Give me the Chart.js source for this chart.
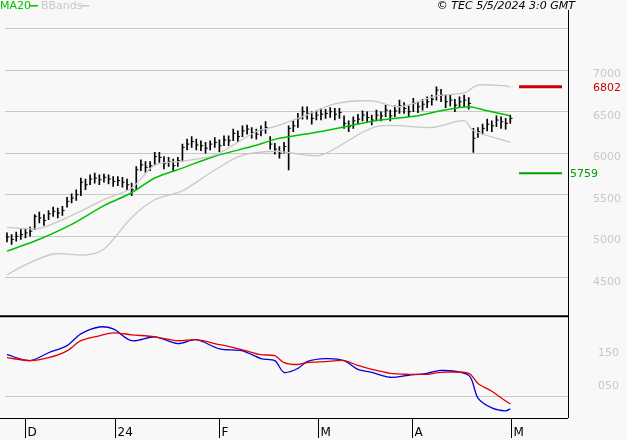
<!DOCTYPE html>
<html lang="en">
<head>
<meta charset="UTF-8" />
<title>Price chart with MACD</title>
<script src="https://cdn.jsdelivr.net/npm/chart.js"></script>
<style>
  body { margin: 0; background: #f8f8f8; }
  #wrap { width: 627px; height: 440px; position: relative; }
</style>
</head>
<body>
<div id="wrap"><canvas id="chart"></canvas></div>
<script>
// daily bars, index 0 = late Nov 2023, last = 3 May 2024
const closes = [4990,4960,5000,5020,5040,5060,5240,5220,5190,5270,
  5300,5280,5310,5420,5460,5500,5650,5620,5690,5700,
  5680,5710,5690,5660,5670,5650,5620,5560,5800,5860,
  5830,5850,5960,5950,5880,5900,5850,5910,6070,6110,
  6140,6100,6090,6060,6110,6130,6090,6160,6150,6240,
  6200,6270,6290,6250,6230,6280,6310,6110,6050,6000,
  6080,6300,6330,6420,6500,6480,6420,6460,6470,6480,
  6500,6470,6490,6360,6320,6390,6410,6460,6430,6400,
  6460,6450,6520,6450,6510,6570,6540,6500,6600,6560,
  6590,6620,6650,6760,6700,6620,6640,6580,6620,6640,
  6600,6180,6260,6300,6350,6330,6400,6380,6360,6420];
const highs = [5040,5020,5050,5080,5090,5110,5260,5290,5260,5310,
  5350,5340,5360,5470,5510,5560,5700,5690,5740,5760,
  5740,5750,5740,5720,5720,5710,5690,5640,5840,5920,
  5900,5900,6010,6010,5960,5950,5930,5950,6110,6170,
  6200,6170,6150,6130,6150,6190,6160,6210,6210,6290,
  6270,6330,6340,6310,6290,6330,6380,6200,6120,6080,
  6130,6330,6390,6480,6560,6560,6500,6510,6540,6530,
  6550,6540,6540,6450,6390,6440,6470,6510,6500,6460,
  6520,6500,6580,6520,6570,6640,6610,6570,6660,6620,
  6650,6680,6700,6800,6770,6700,6700,6650,6680,6700,
  6670,6300,6310,6350,6410,6390,6450,6440,6420,6460];
const lows = [4930,4900,4940,4960,4980,5000,5080,5160,5130,5200,
  5240,5220,5250,5350,5400,5430,5490,5560,5620,5640,
  5620,5650,5630,5600,5610,5590,5560,5490,5560,5790,
  5770,5790,5860,5890,5810,5840,5790,5840,5900,6040,
  6070,6040,6030,6000,6040,6070,6020,6090,6090,6150,
  6140,6200,6230,6180,6170,6210,6240,6050,5990,5940,
  6000,5800,6260,6310,6410,6410,6350,6400,6400,6420,
  6430,6400,6420,6300,6260,6300,6350,6390,6370,6340,
  6390,6390,6440,6390,6440,6480,6480,6440,6500,6490,
  6520,6550,6580,6640,6620,6550,6570,6500,6550,6560,
  6530,6010,6190,6230,6270,6260,6320,6300,6290,6360];

// MA20 and Bollinger bands, read at these bar indexes
const maIdx = [0,7,14,21,27,32,38,45,54,58,68,80,89,94,100,104,109];
const ma20  = [4821,4964,5143,5369,5524,5702,5821,5964,6095,6167,6262,6393,6452,6512,6560,6512,6452];
const upIdx = [0,7,14,21,27,32,38,45,54,58,64,71,79,85,93,99,102,108,109];
const upper = [5107,5095,5250,5440,5580,5857,5905,5976,6262,6321,6440,6595,6630,6560,6690,6726,6820,6810,6800];
const loIdx = [0,4,10,17,21,27,32,38,45,51,58,62,68,80,92,99,101,109];
const lower = [4536,4655,4786,4774,4845,5226,5440,5548,5798,5976,6024,6000,5976,6321,6310,6393,6274,6131];

// MACD panel
const macdIdx = [0,5,9,13,16,20,23,27,32,37,41,46,51,55,58,60,63,65,69,73,76,79,83,87,91,94,100,102,105,108,109];
const macd   = [127,109,133,155,191,212,206,170,182,161,173,145,139,115,109,73,85,106,115,109,82,73,58,64,70,79,64,-6,-36,-45,-39];
const signal = [118,109,118,139,170,185,194,188,182,170,173,158,142,127,124,103,97,103,106,109,94,82,70,67,67,73,70,39,15,-15,-24];

// levels on the right
const levels = [6802, 5759];
const levelColors = ['#cc0000', '#00a000'];
const levelSpan = [110.9, 120.2];

const priceTicks = [4500, 5000, 5500, 6000, 6500, 7000, 7500];
const priceLabels = [4500, 5000, 5500, 6000, 6500, 7000];
const macdTicks = [0, 50, 150];
const macdLabels = [50, 150];
const monthIdx = [4, 23.5, 46, 67.4, 87.8, 109.2];
const monthLabels = ['D', '24', 'F', 'M', 'A', 'M'];

const pts = (xs, ys) => xs.map((x, i) => ({ x: x, y: ys[i] }));
const lineDs = (label, data, color, width, axis) => ({
  type: 'line', label, data, borderColor: color, borderWidth: width,
  pointRadius: 0, tension: 0.3, yAxisID: axis
});

const datasets = [
  lineDs('upper', pts(upIdx, upper), '#c8c8c8', 1.3, 'y'),
  lineDs('lower', pts(loIdx, lower), '#c8c8c8', 1.3, 'y'),
  lineDs('MA20', pts(maIdx, ma20), '#00c000', 1.5, 'y'),
  {
    type: 'bar', label: 'range',
    data: closes.map((c, i) => ({ x: i, y: [lows[i], highs[i]] })),
    backgroundColor: '#000', borderWidth: 0, barThickness: 1, yAxisID: 'y'
  },
  {
    type: 'scatter', label: 'close',
    data: closes.map((c, i) => ({ x: i + 0.25, y: c })),
    pointStyle: 'line', pointRadius: 1.1, borderColor: '#000', borderWidth: 1, yAxisID: 'y'
  },
  lineDs('signal', pts(macdIdx, signal), '#e00000', 1.3, 'm'),
  lineDs('macd', pts(macdIdx, macd), '#0000dd', 1.3, 'm')
];
levels.forEach((v, i) => {
  datasets.push(lineDs('lvl' + i, pts(levelSpan, [v, v]), levelColors[i], i === 0 ? 3 : 2, 'y'));
});

const frame = {
  id: 'frame',
  afterDraw(chart) {
    const ctx = chart.ctx, xs = chart.scales.x, ys = chart.scales.y, ms = chart.scales.m;
    const right = xs.right, bottom = ms.bottom;
    ctx.save();
    ctx.strokeStyle = '#000';
    ctx.lineWidth = 1;
    ctx.beginPath();
    ctx.moveTo(right + 0.5, 10); ctx.lineTo(right + 0.5, bottom);
    ctx.moveTo(0, bottom + 0.5); ctx.lineTo(right, bottom + 0.5);
    ctx.stroke();
    ctx.lineWidth = 2;
    ctx.beginPath();
    ctx.moveTo(0, ms.top); ctx.lineTo(right, ms.top);
    ctx.stroke();
    // month ticks
    ctx.lineWidth = 1;
    ctx.font = '12px "DejaVu Sans"';
    ctx.fillStyle = '#000';
    ctx.textBaseline = 'middle';
    monthIdx.forEach((m, i) => {
      const x = Math.round(xs.getPixelForValue(m)) + 0.5;
      ctx.beginPath(); ctx.moveTo(x, bottom); ctx.lineTo(x, bottom + 20); ctx.stroke();
      ctx.fillText(monthLabels[i], x + 2, bottom + 15);
    });
    // axis labels
    ctx.font = '11px "DejaVu Sans"';
    ctx.fillStyle = '#c8c8c8';
    priceLabels.forEach(v => ctx.fillText(String(v), 593, ys.getPixelForValue(v) + 4));
    macdLabels.forEach(v => ctx.fillText(String(v).padStart(3, '0'), 598, ms.getPixelForValue(v) + 6));
    levels.forEach((v, i) => {
      ctx.fillStyle = levelColors[i];
      ctx.fillText(String(v), i === 0 ? 593 : 570, ys.getPixelForValue(v) + 1);
    });
    // legend and stamp
    ctx.fillStyle = '#00c000';
    ctx.fillText('MA20', 0, 6);
    ctx.fillRect(30, 5, 8, 1.5);
    ctx.fillStyle = '#c8c8c8';
    ctx.fillText('BBands', 41, 6);
    ctx.fillRect(81, 5, 8, 1.5);
    ctx.fillStyle = '#000';
    ctx.font = 'italic 11px "DejaVu Sans"';
    ctx.textAlign = 'right';
    ctx.fillText('\u00a9 TEC 5/5/2024 3:0 GMT', 575, 6);
    ctx.restore();
  }
};

new Chart(document.getElementById('chart'), {
  data: { datasets },
  options: {
    responsive: true, maintainAspectRatio: false, animation: false,
    layout: { padding: { top: 0, bottom: 22, left: 0, right: 0 } },
    plugins: { legend: { display: false }, tooltip: { enabled: false } },
    scales: {
      x: { type: 'linear', offset: false, min: -0.43, max: 121.5, display: false },
      y: {
        position: 'right', stack: 'p', stackWeight: 315, min: 4036, max: 7786,
        afterBuildTicks: s => { s.ticks = priceTicks.map(v => ({ value: v })); },
        afterFit: s => { s.width = 59; },
        border: { display: false },
        grid: { color: '#c8c8c8', drawTicks: false },
        ticks: { display: false }
      },
      m: {
        position: 'right', stack: 'p', stackWeight: 103, min: -67, max: 245,
        afterBuildTicks: s => { s.ticks = macdTicks.map(v => ({ value: v })); },
        afterFit: s => { s.width = 59; },
        border: { display: false },
        grid: { color: c => c.tick && c.tick.value === 0 ? '#c8c8c8' : 'rgba(0,0,0,0)', drawTicks: false },
        ticks: { display: false }
      }
    }
  },
  plugins: [frame]
});
</script>
</body>
</html>
